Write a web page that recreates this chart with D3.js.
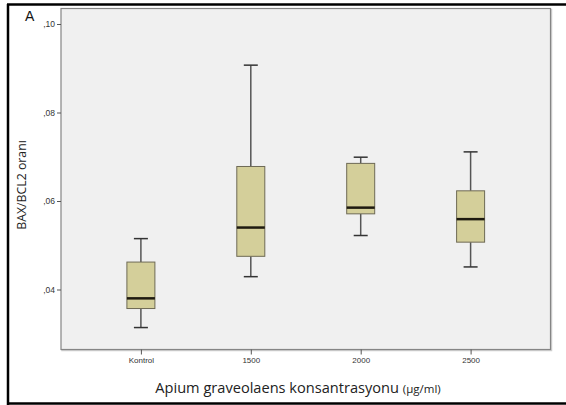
<!DOCTYPE html>
<html><head><meta charset="utf-8">
<script src="https://cdn.jsdelivr.net/npm/d3@7"></script>
<style>body{margin:0;background:#fff;overflow:hidden}svg{display:block;font-family:"Liberation Sans",Arial,sans-serif}</style>
</head><body>
<svg id="c" width="566" height="405"></svg>
<script>
const categories = ["Kontrol","1500","2000","2500"];
const whiskerMin = [0.0314,0.0429,0.0522,0.0451];
const q1 =         [0.0357,0.0475,0.0571,0.0507];
const median =     [0.0380,0.0540,0.0585,0.0559];
const q3 =         [0.0462,0.0678,0.0685,0.0623];
const whiskerMax = [0.0515,0.0907,0.0699,0.0711];
const yTicks = [0.04,0.06,0.08,0.10];
const yTickLabels = [",04",",06",",08",",10"];

const svg = d3.select("#c");
const L=61,R=550.5,T=8.5,B=349.5;
const y = d3.scaleLinear().domain([0.04,0.10]).range([289.5,24]);
const x = d3.scalePoint().domain(categories).range([L,R]).padding(0.727);

// outer border (left, top, bottom only; right edge lies beyond the picture)
const bd = svg.append("g").attr("stroke","#000").attr("stroke-width",2.5);
bd.append("line").attr("x1",8).attr("x2",8).attr("y1",4).attr("y2",405);
bd.append("line").attr("x1",7).attr("x2",566).attr("y1",4.5).attr("y2",4.5);
bd.append("line").attr("x1",7).attr("x2",566).attr("y1",403.5).attr("y2",403.5);

// plot background shadow + area
svg.append("rect").attr("x",L+1).attr("y",T+1).attr("width",R-L).attr("height",B-T)
  .attr("fill","none").attr("stroke","#cfcfcf").attr("stroke-width",1.5);
svg.append("rect").attr("x",L).attr("y",T).attr("width",R-L).attr("height",B-T)
  .attr("fill","#f0f0f0").attr("stroke","#858585").attr("stroke-width",1.2);

// y axis
const yAxis = d3.axisLeft(y).tickValues(yTicks).tickSize(4).tickPadding(2)
  .tickFormat((d,i)=>yTickLabels[i]);
const gy = svg.append("g").attr("transform",`translate(${L},0)`).call(yAxis);
gy.select(".domain").remove();
gy.selectAll(".tick line").attr("stroke","#555");
gy.selectAll(".tick text").attr("fill","#333").style("font-size","8.5px");

// x axis
const xAxis = d3.axisBottom(x).tickSize(5).tickPadding(3);
const gx = svg.append("g").attr("transform",`translate(0,${B})`).call(xAxis);
gx.select(".domain").remove();
gx.selectAll(".tick line").attr("stroke","#555");
gx.selectAll(".tick text").attr("fill","#333").style("font-size","8px");

// boxes
const bw = 28, cw = 14;
categories.forEach((c,i)=>{
  const cx = x(c);
  const g = svg.append("g");
  g.append("line").attr("x1",cx).attr("x2",cx).attr("y1",y(whiskerMax[i])).attr("y2",y(q3[i]))
    .attr("stroke","#555").attr("stroke-width",1.5);
  g.append("line").attr("x1",cx).attr("x2",cx).attr("y1",y(q1[i])).attr("y2",y(whiskerMin[i]))
    .attr("stroke","#555").attr("stroke-width",1.5);
  g.append("line").attr("x1",cx-cw/2).attr("x2",cx+cw/2).attr("y1",y(whiskerMax[i])).attr("y2",y(whiskerMax[i]))
    .attr("stroke","#333").attr("stroke-width",1.5);
  g.append("line").attr("x1",cx-cw/2).attr("x2",cx+cw/2).attr("y1",y(whiskerMin[i])).attr("y2",y(whiskerMin[i]))
    .attr("stroke","#333").attr("stroke-width",1.5);
  g.append("rect").attr("x",cx-bw/2).attr("y",y(q3[i])).attr("width",bw).attr("height",y(q1[i])-y(q3[i]))
    .attr("fill","#d4cf9a").attr("stroke","#6e6a55").attr("stroke-width",1);
  g.append("line").attr("x1",cx-bw/2).attr("x2",cx+bw/2).attr("y1",y(median[i])).attr("y2",y(median[i]))
    .attr("stroke","#1e1a10").attr("stroke-width",2.5);
});

// labels
svg.append("text").attr("x",25).attr("y",21).text("A").style("font-size","14px").attr("fill","#111");
svg.append("text").attr("transform","translate(26,185) rotate(-90)").attr("text-anchor","middle")
  .style("font-family","'Open Sans',sans-serif")
  .style("font-size","12.3px").attr("fill","#222").text("BAX/BCL2 oranı");
const t = svg.append("text").attr("x",298).attr("y",393).attr("text-anchor","middle")
  .style("font-family","'Open Sans',sans-serif")
  .style("font-size","14.6px").attr("fill","#222");
t.append("tspan").text("Apium graveolaens konsantrasyonu ");
t.append("tspan").style("font-size","11.5px").text("(μg/ml)");
</script>
</body></html>
